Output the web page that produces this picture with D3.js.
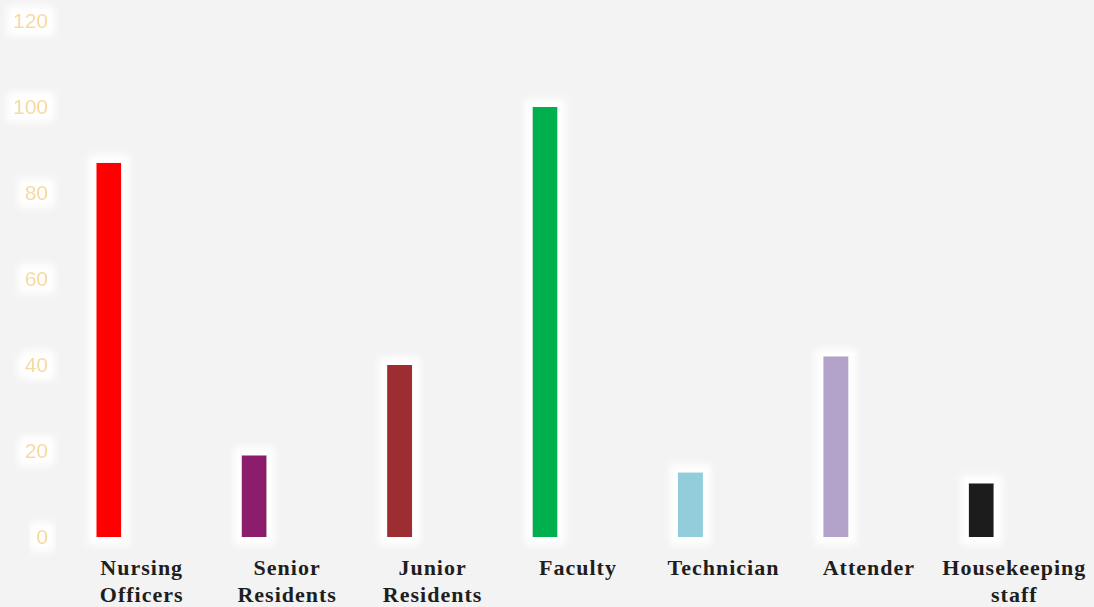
<!DOCTYPE html>
<html>
<head>
<meta charset="utf-8">
<script src="https://cdn.jsdelivr.net/npm/d3@7"></script>
<style>
  html, body { margin: 0; padding: 0; background: #f3f3f3; }
  svg { display: block; }
</style>
</head>
<body>
<script>
const width = 1094;
const height = 607;

// data
const categories = [
  ['Nursing', 'Officers'],
  ['Senior', 'Residents'],
  ['Junior', 'Residents'],
  ['Faculty'],
  ['Technician'],
  ['Attender'],
  ['Housekeeping', 'staff']
];
const values = [87, 19, 40, 100, 15, 42, 12.5];
const barColors = ['#ff0000', '#8c1a6c', '#9c2f32', '#00b050', '#92cddc', '#b3a2c9', '#1c1c1c'];
const yTicks = [0, 20, 40, 60, 80, 100, 120];

const svg = d3.select('body').append('svg')
    .attr('width', width).attr('height', height);

// white halo round bars and tick labels
const defs = svg.append('defs');
const glow = defs.append('filter').attr('id', 'glow')
    .attr('x', '-60%').attr('y', '-60%').attr('width', '220%').attr('height', '220%');
glow.append('feMorphology').attr('in', 'SourceAlpha').attr('operator', 'dilate')
    .attr('radius', 8).attr('result', 'fat');
glow.append('feFlood').attr('flood-color', '#ffffff').attr('result', 'white');
glow.append('feComposite').attr('in', 'white').attr('in2', 'fat').attr('operator', 'in').attr('result', 'halo');
glow.append('feGaussianBlur').attr('in', 'halo').attr('stdDeviation', 3.5).attr('result', 'soft');
const merge = glow.append('feMerge');
merge.append('feMergeNode').attr('in', 'soft');
merge.append('feMergeNode').attr('in', 'SourceGraphic');

const x = d3.scaleBand()
    .domain(d3.range(categories.length))
    .range([36, 1054]);

const y = d3.scaleLinear().domain([0, 120]).range([537, 21]);

const barW = x.bandwidth() * 0.172;

// y tick labels
svg.append('g').selectAll('text')
    .data(yTicks)
    .join('text')
    .attr('x', 48)
    .attr('y', d => y(d))
    .attr('dy', '0.35em')
    .attr('text-anchor', 'end')
    .attr('filter', 'url(#glow)')
    .style('font-family', '"Liberation Sans", Arial, sans-serif')
    .style('font-size', '21px')
    .style('fill', '#f7d99e')
    .text(d => d);

// bars
svg.append('g').selectAll('rect')
    .data(values)
    .join('rect')
    .attr('x', (d, i) => x(i) + x.bandwidth() / 2 - barW / 2)
    .attr('y', d => y(d))
    .attr('width', barW)
    .attr('height', d => y(0) - y(d))
    .attr('fill', (d, i) => barColors[i])
    .attr('filter', 'url(#glow)');

// category labels, shifted right of the bars like in the source
const labels = svg.append('g').selectAll('text')
    .data(categories)
    .join('text')
    .attr('text-anchor', 'middle')
    .attr('transform', (d, i) => `translate(${x(i) + x.bandwidth() / 2 + 33},575)`)
    .style('font-family', '"Liberation Serif", "Times New Roman", serif')
    .style('font-weight', 'bold')
    .style('font-size', '22px')
    .style('letter-spacing', '1px')
    .style('fill', '#1e1e1e');

labels.selectAll('tspan')
    .data(d => d)
    .join('tspan')
    .attr('x', 0)
    .attr('y', (d, i) => i * 27)
    .text(d => d);
</script>
</body>
</html>
